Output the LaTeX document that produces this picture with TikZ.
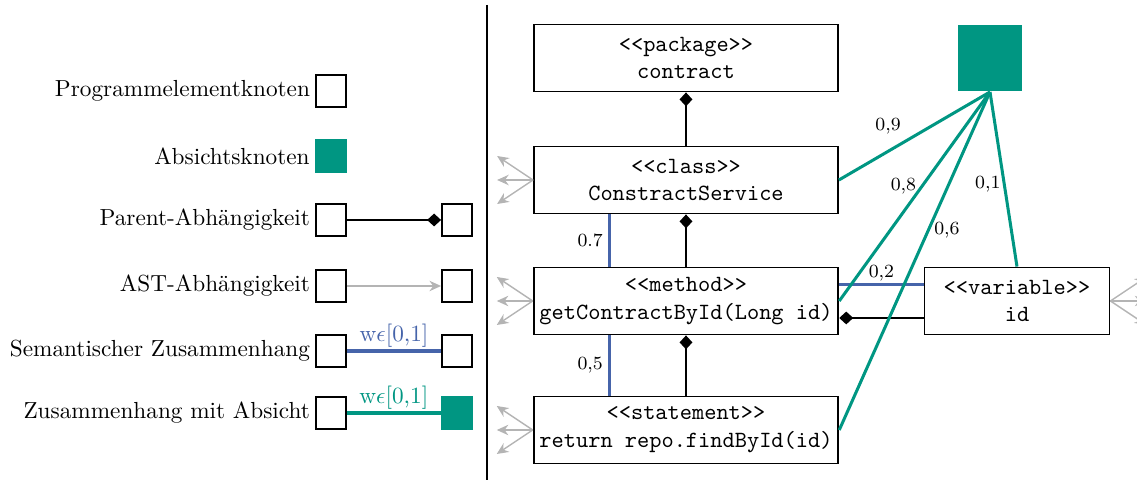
\documentclass[tikz,border=0pt]{standalone}
\usepackage{amsmath}
\usetikzlibrary{arrows.meta, positioning}
\definecolor{intentcol}{HTML}{009682}
\definecolor{semcol}{HTML}{4664AA}
\definecolor{astcol}{HTML}{B4B4B4}

\begin{document}
\begin{tikzpicture}[
    x=0.43pt, y=-0.43pt,
    >=Stealth,
    elem/.style={
        draw, line width=0.8pt, minimum width=130.7pt, minimum height=28.8pt,
        align=center, font=\ttfamily, inner sep=2.5pt
    },
    intentbox/.style={fill=intentcol, minimum width=27.8pt, minimum height=28.8pt, inner sep=0pt},
    legbox/.style={draw, line width=0.8pt, minimum width=12.9pt, minimum height=13.5pt, inner sep=0pt},
    legfill/.style={fill=intentcol, minimum width=13.6pt, minimum height=14.2pt, inner sep=0pt},
    legtext/.style={inner sep=1pt},
    parent/.style={-{Diamond[length=6pt, width=5.5pt]}, line width=0.8pt},
    ast/.style={-{Stealth[length=5pt, width=4.5pt]}, line width=0.6pt, color=astcol},
    sem/.style={line width=1.3pt, color=semcol},
    intent/.style={line width=1.3pt, color=intentcol},
    lbl/.style={font=\footnotesize, text=black, inner sep=2pt},
]
\useasboundingbox (0,0) rectangle (1137,482);

% ===== Legend =====
\node[legbox] (lelem) at (331,91) {};
\node[legtext, left=1pt of lelem] (telem) {Programmelementknoten};

\node[legfill] (lint) at (331,156) {};
\node[legtext, left=1pt of lint] (tint) {Absichtsknoten};

\node[legbox] (lpar) at (331,220) {};
\node[legbox] (lpar2) at (457,220) {};
\node[legtext, left=1pt of lpar] (tpar) {Parent-Abh\"angigkeit};

\node[legbox] (last) at (331,286) {};
\node[legbox] (last2) at (457,286) {};
\node[legtext, left=1pt of last] (tast) {AST-Abh\"angigkeit};

\node[legbox] (lsem) at (331,351) {};
\node[legbox] (lsem2) at (457,351) {};
\node[legtext, left=1pt of lsem] (tsem) {Semantischer Zusammenhang};

\node[legbox] (labs) at (331,413) {};
\node[legfill] (labs2) at (457,413) {};
\node[legtext, left=1pt of labs] (tabs) {Zusammenhang mit Absicht};

\draw[parent] (lpar) -- (lpar2);
\draw[ast] (last) -- (last2);
\draw[sem] (lsem) -- (lsem2) node[midway, above, inner sep=1pt, text=semcol] {w$\epsilon$[0,1]};
\draw[intent] (labs) -- (labs2) node[midway, above, inner sep=1pt, text=intentcol] {w$\epsilon$[0,1]};

% ===== Separator =====
\coordinate (septop) at (487,5);
\coordinate (sepbot) at (487,480);
\draw[line width=0.8pt] (septop) -- (sepbot);

% ===== Program elements =====
\node[elem] (pkg) at (686,58) {<<package>>\\contract};
\node[elem] (cls) at (686,180) {<<class>>\\ConstractService};
\node[elem] (mth) at (686,301) {<<method>>\\getContractById(Long id)};
\node[elem] (stm) at (686,430) {<<statement>>\\return repo.findById(id)};
\node[elem, minimum width=79.6pt] (var) at (1017,301) {<<variable>>\\id};
\node[intentbox] (int) at (990,58) {};

% ===== AST stubs =====
\foreach \n in {cls, mth, stm} {
    \foreach \dy [count=\i] in {-24, 0, 24} {
        \coordinate (\n-ast\i) at ([shift={(-36,\dy)}]\n.west);
        \draw[ast] (\n.west) -- (\n-ast\i);
    }
}
\foreach \dy [count=\i] in {-24, 0, 24} {
    \coordinate (var-ast\i) at ([shift={(36,\dy)}]var.east);
    \draw[ast] (var.east) -- (var-ast\i);
}

% ===== Parent dependencies =====
\draw[parent] (cls) -- (pkg);
\draw[parent] (mth) -- (cls);
\draw[parent] (stm) -- (mth);
\draw[parent] ([yshift=-7.3pt]var.west) -- ([yshift=-7.3pt]mth.east);

% ===== Semantic relations =====
\draw[sem] ([xshift=-33.1pt]cls.south) -- ([xshift=-33.1pt]mth.north)
    node[midway, left, lbl] {0.7};
\draw[sem] ([xshift=-33.1pt]mth.south) -- ([xshift=-33.1pt]stm.north)
    node[midway, left, lbl] {0,5};
\draw[sem] ([yshift=6.9pt]mth.east) -- ([yshift=6.9pt]var.west)
    node[midway, above, lbl, inner sep=1pt] {0,2};

% ===== Intent relations =====
\draw[intent] (int.south) -- (cls.east) node[pos=0.55, above left=0pt, lbl] {0,9};
\draw[intent] (int.south) -- (mth.east) node[pos=0.45, left, lbl] {0,8};
\draw[intent] (int.south) -- (stm.east) node[pos=0.41, right, lbl] {0,6};
\draw[intent] (int.south) -- (var.north) node[pos=0.53, left, lbl, inner sep=1pt] {0,1};

\end{tikzpicture}
\end{document}
